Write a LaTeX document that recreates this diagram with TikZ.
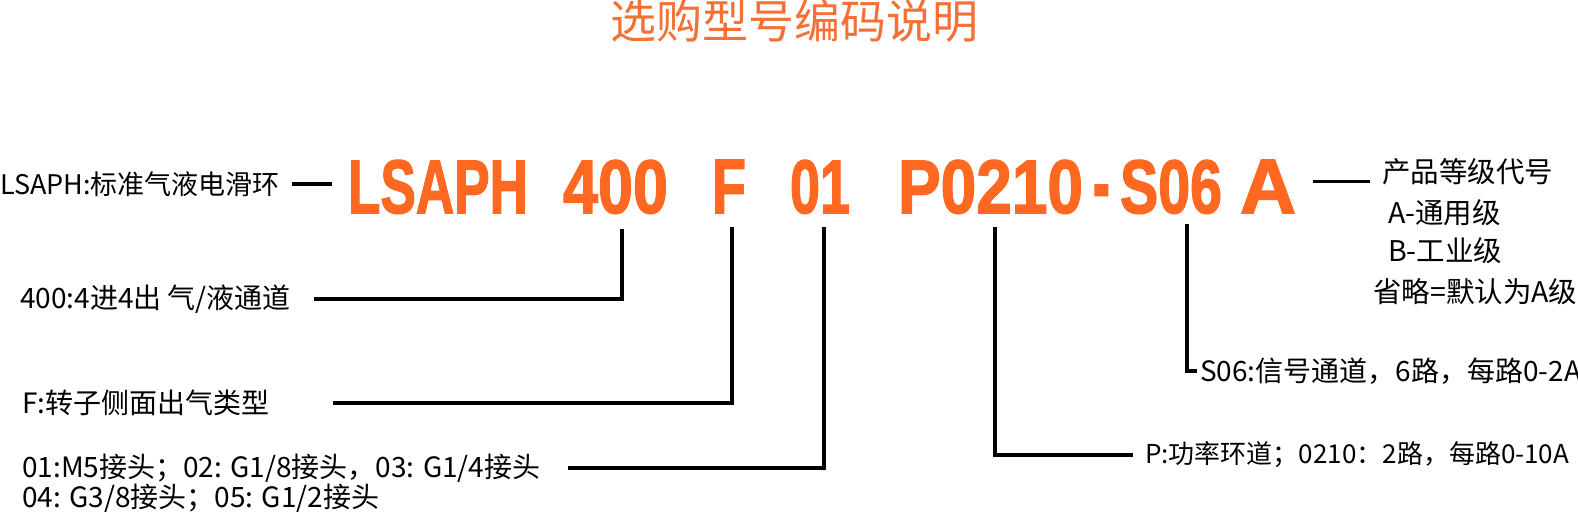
\documentclass[tikz,border=0pt]{standalone}
\usepackage{fontspec}
\usetikzlibrary{positioning,calc}
\newfontfamily\cjk{Noto Sans CJK SC}
\newfontfamily\codefont{Liberation Sans Bold}[FakeBold=2]
\definecolor{codeor}{RGB}{255,104,32}
\definecolor{titleor}{RGB}{245,112,52}
\newcommand{\codeseg}[2]{\resizebox{#1pt}{53pt}{\codefont #2}}
\tikzset{
    code/.style  = {anchor=base,
                    inner sep=0pt,
                    text=codeor},
    lbl/.style   = {anchor=west,
                    inner sep=0pt,
                    text=black,
                    font=\cjk\fontsize{28}{30}\selectfont},
    grade/.style = {lbl,
                    font=\cjk\fontsize{28.5}{32}\selectfont},
    conn/.style  = {draw=black,
                    line width=3.5pt},
}
\begin{document}
\begin{tikzpicture}[x=1pt,y=-1pt]
    \useasboundingbox (0,0) rectangle (1578,511);
    \node[font=\cjk\fontsize{46}{46}\selectfont,text=titleor] (title) at (794,21) {选购型号编码说明};

    % code segments
    \node[code] (nLSAPH) at (438,213)    {\codeseg{180}{LSAPH}};
    \node[code] (n400)   at (615.5,213)  {\codeseg{105}{400}};
    \node[code] (nF)     at (729,213)    {\codeseg{34}{F}};
    \node[code] (n01)    at (820,213)    {\codeseg{60}{01}};
    \node[code] (nP)     at (990.5,213)  {\codeseg{185}{P0210}};
    \node[code] (nDash)  at (1101.5,213) {\resizebox{17pt}{28pt}{\codefont -}};
    \node[code] (nS06)   at (1171,213)   {\codeseg{102}{S06}};
    \node[code] (nA)     at (1268,213)   {\codeseg{56}{A}};

    % labels
    \node[lbl,font=\cjk\fontsize{27}{30}\selectfont] (lLSAPH) at (0,184)  {LSAPH:标准气液电滑环};
    \node[lbl] (l400)   at (20,299) {400:4进4出 气/液通道};
    \node[lbl] (lF)     at (22,403) {F:转子侧面出气类型};
    \node[lbl] (l01a)   at (22,468) {01:M5接头；02: G1/8接头，03: G1/4接头};
    \node[lbl,below=1pt of l01a.south west,anchor=north west] (l01b) {04: G3/8接头；05: G1/2接头};
    \node[lbl] (lS06)   at (1200,371) {S06:信号通道，6路，每路0-2A};
    \node[lbl,font=\cjk\fontsize{26}{30}\selectfont] (lP) at (1145,455) {P:功率环道；0210：2路，每路0-10A};
    \node[grade] (lGrade) at (1382,172) {产品等级代号};
    \node[grade] (lGA)    at (1388,213) {A-通用级};
    \node[grade] (lGB)    at (1388,251) {B-工业级};
    \node[grade] (lGdef)  at (1373,292) {省略=默认为A级};

    % tops of the connectors
    \coordinate (t400) at (622,229);
    \coordinate (tF)   at (732,227);
    \coordinate (t01)  at (824,227);
    \coordinate (tP)   at (995,227);
    \coordinate (tS06) at (1187,224);

    \draw[conn,shorten <=12pt,shorten >=16pt] (lLSAPH.east) -- (lLSAPH.east -| nLSAPH.west);
    \draw[conn,shorten <=17pt,shorten >=12pt] ([yshift=5pt]nA.east) -- ([yshift=5pt]nA.east -| lGrade.west);
    \draw[conn] (t400) |- ([xshift=23pt]l400.east);
    \draw[conn] (tF)   |- ([xshift=63pt]lF.east);
    \draw[conn] (t01)  |- ([xshift=27pt]l01a.east);
    \draw[conn] (tP)   |- ([xshift=-12pt]lP.west);
    \draw[conn] (tS06) |- ([xshift=-3pt]lS06.west);
\end{tikzpicture}
\end{document}
